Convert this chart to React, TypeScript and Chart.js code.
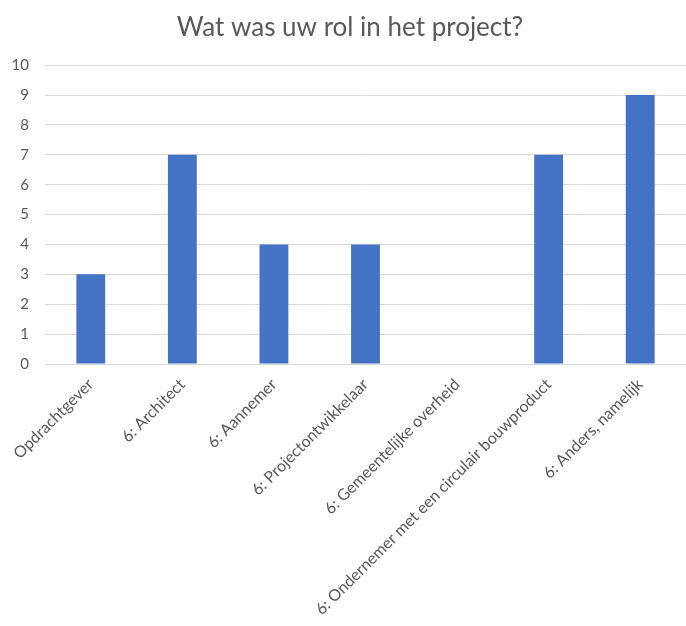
import React, { useEffect, useRef } from "react";
import { Chart, registerables } from "chart.js";

Chart.register(...registerables);

const categories = [
  "Opdrachtgever",
  "6: Architect",
  "6: Aannemer",
  "6: Projectontwikkelaar",
  "6: Gemeentelijke overheid",
  "6: Ondernemer met een circulair bouwproduct",
  "6: Anders, namelijk",
];
const values = [3, 7, 4, 4, 0, 7, 9];
const yTicks = [0, 1, 2, 3, 4, 5, 6, 7, 8, 9, 10];
const titleText = "Wat was uw rol in het project?";

const FONT = "Lato, 'Open Sans', sans-serif";
const TEXT = "#595959";

export default function App() {
  const ref = useRef<HTMLCanvasElement | null>(null);

  useEffect(() => {
    document.body.style.margin = "0";
    const canvas = ref.current;
    if (!canvas) return;
    const chart = new Chart(canvas, {
      type: "bar",
      data: {
        labels: categories,
        datasets: [
          {
            data: values,
            backgroundColor: "#4472C4",
            borderWidth: 0,
            barPercentage: 0.63,
            categoryPercentage: 0.5,
          },
        ],
      },
      options: {
        animation: false,
        responsive: false,
        maintainAspectRatio: false,
        layout: { padding: { left: 11, right: -3, top: 0, bottom: 0 } },
        plugins: {
          legend: { display: false },
          tooltip: { enabled: false },
          title: {
            display: true,
            text: titleText,
            color: TEXT,
            font: { family: FONT, size: 26, weight: "normal" },
            padding: { top: 12, bottom: 22 },
          },
        },
        scales: {
          x: {
            grid: { display: false },
            border: { display: true, color: "#d9d9d9", width: 1 },
            ticks: {
              color: TEXT,
              font: { family: FONT, size: 16 },
              maxRotation: 45,
              minRotation: 45,
              autoSkip: false,
              padding: 3,
            },
            afterFit: (scale: any) => {
              scale.height = 262;
            },
          },
          y: {
            min: 0,
            max: 10,
            afterBuildTicks: (scale: any) => {
              scale.ticks = yTicks.map((v) => ({ value: v }));
            },
            grid: { color: "#d9d9d9", lineWidth: 1, drawTicks: false },
            border: { display: false },
            ticks: {
              color: TEXT,
              font: { family: FONT, size: 15 },
              padding: 16,
            },
            afterFit: (scale: any) => {
              scale.width = 34;
            },
          },
        },
      },
    });
    return () => chart.destroy();
  }, []);

  return (
    <div style={{ width: 686, height: 626 }}>
      <canvas ref={ref} width={686} height={626} style={{ display: "block" }} />
    </div>
  );
}
